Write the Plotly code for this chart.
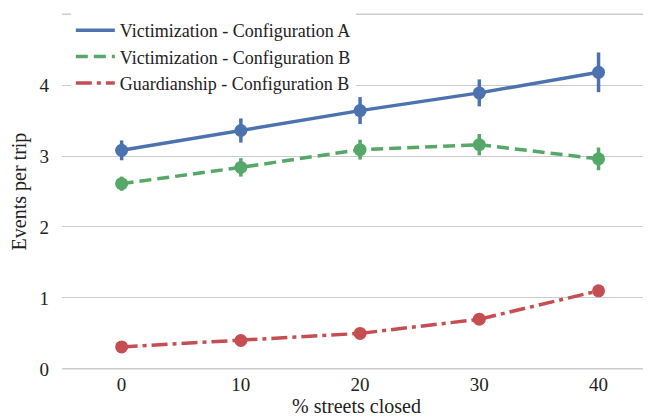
import plotly.graph_objects as go

categories = ["0", "10", "20", "30", "40"]
vict_a = [3.08, 3.36, 3.64, 3.89, 4.18]
vict_a_err = [0.14, 0.17, 0.19, 0.19, 0.28]
vict_b = [2.61, 2.84, 3.09, 3.16, 2.96]
vict_b_err = [0.10, 0.13, 0.14, 0.15, 0.16]
guard_b = [0.31, 0.40, 0.50, 0.70, 1.10]
guard_b_err = [0.02, 0.02, 0.02, 0.03, 0.04]
names = ["Victimization - Configuration A", "Victimization - Configuration B", "Guardianship - Configuration B"]
colors = ["#4C72B0", "#55A868", "#C44E52"]
dashes = ["solid", "12px,6px", "16px,5px,4px,5px"]
y_limits = [0, 5]

FONT = "Liberation Serif"
TXT = "#222222"
GRID = "#cccccc"

def f(size):
    return dict(family=FONT, size=size, color=TXT)

fig = go.Figure()
series = [(vict_a, vict_a_err), (vict_b, vict_b_err), (guard_b, guard_b_err)]
for (vals, errs), name, col, dash in zip(series, names, colors, dashes):
    fig.add_trace(go.Scatter(
        x=categories, y=vals, mode="lines+markers", showlegend=False,
        line=dict(color=col, width=3.5, dash=dash),
        marker=dict(color=col, size=13),
        error_y=dict(type="data", array=errs, visible=True, color=col, thickness=3.5, width=0),
    ))
for name, col, dash in zip(names, colors, dashes):
    fig.add_trace(go.Scatter(
        x=[None], y=[None], mode="lines", name=name,
        line=dict(color=col, width=3.5, dash=dash),
    ))

# edge gridlines (plotly omits gridlines at the very edges of the range)
for yv in y_limits:
    fig.add_shape(type="line", xref="paper", x0=0, x1=1, yref="y", y0=yv, y1=yv,
                  line=dict(color=GRID, width=1.3), layer="above")

fig.update_layout(
    width=643, height=412,
    margin=dict(l=54, r=0, t=4, b=49),
    paper_bgcolor="white", plot_bgcolor="white",
    font=f(19),
    legend=dict(x=0.015, y=1.0, xanchor="left", yanchor="top",
                bgcolor="rgba(255,255,255,1)", font=f(18),
                tracegroupgap=0, itemwidth=39),
    xaxis=dict(type="category", range=[-0.5, 4.44], showgrid=False, zeroline=False,
               showline=False, ticks="", ticklabelstandoff=0, automargin=False,
               title=dict(text="% streets closed", font=f(20), standoff=2),
               tickfont=f(19)),
    yaxis=dict(range=[-0.03, 5.03], dtick=1, showgrid=True, gridcolor=GRID, gridwidth=1.2,
               zeroline=False, showline=False, ticks="", ticklabelstandoff=12, automargin=False,
               title=dict(text="Events per trip", font=f(20), standoff=20),
               tickfont=f(19)),
)

fig.write_html("out.html")
